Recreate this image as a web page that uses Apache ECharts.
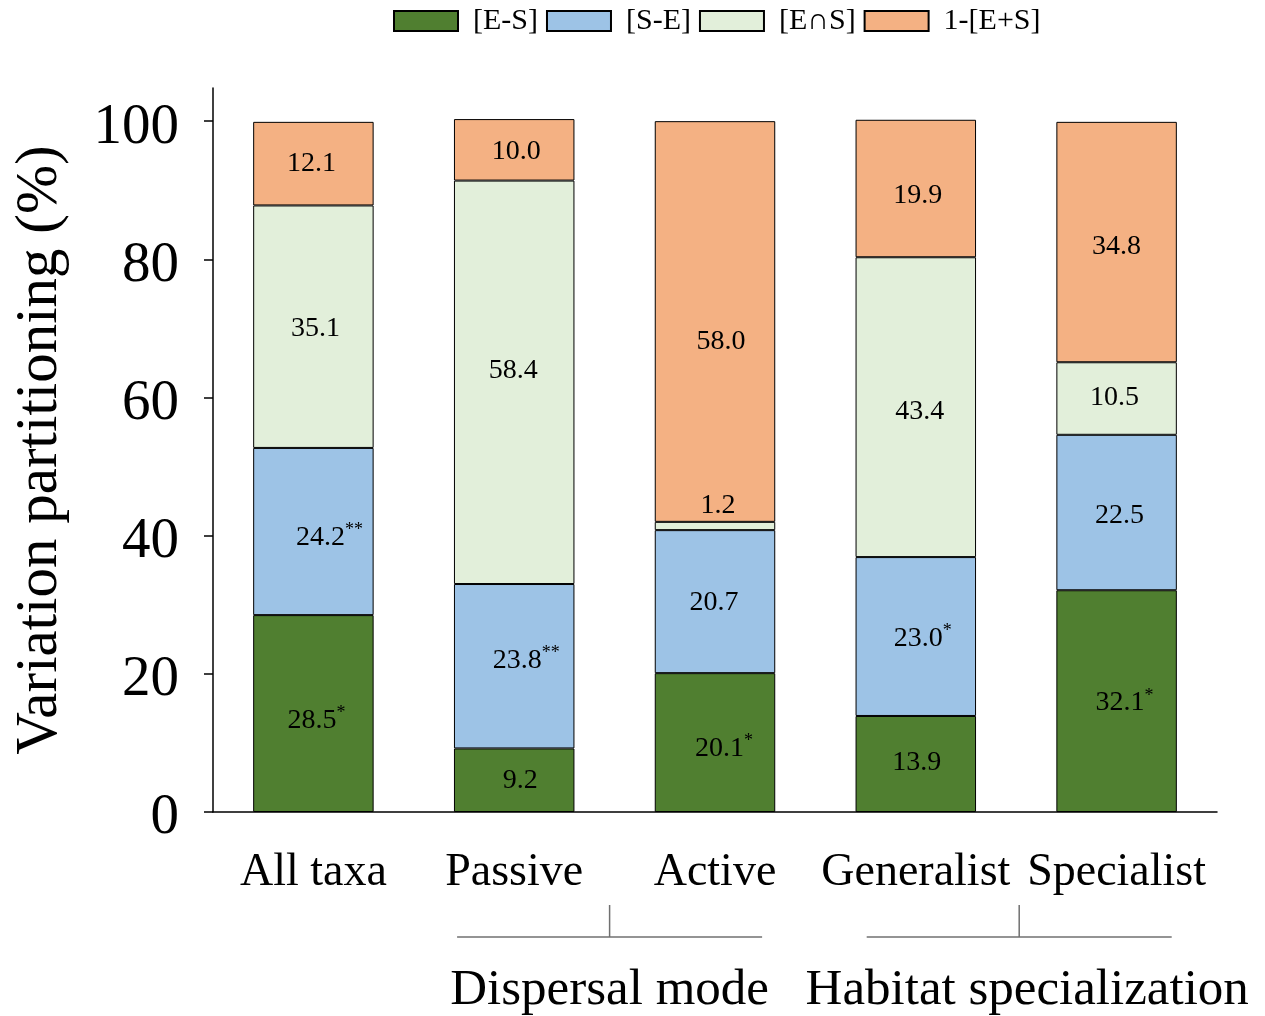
<!DOCTYPE html>
<html>
<head>
<meta charset="utf-8">
<script src="https://cdn.jsdelivr.net/npm/echarts@6/dist/echarts.min.js"></script>
<style>html,body{margin:0;padding:0;background:#fff}#c{width:1265px;height:1016px}</style>
</head>
<body>
<div id="c"></div>
<script>
// ---- data ----
var categories = ['All taxa', 'Passive', 'Active', 'Generalist', 'Specialist'];
var seriesNames = ['[E-S]', '[S-E]', '[E\u2229S]', '1-[E+S]'];
var valuesES   = [28.5, 9.2, 20.1, 13.9, 32.1];
var valuesSE   = [24.2, 23.8, 20.7, 23.0, 22.5];
var valuesEnS  = [35.1, 58.4, 1.2, 43.4, 10.5];
var valuesRes  = [12.1, 8.9, 58.0, 19.9, 34.8];
// printed labels (number, significance stars)
var labelsES  = [['28.5','*'], ['9.2',''], ['20.1','*'], ['13.9',''], ['32.1','*']];
var labelsSE  = [['24.2','**'], ['23.8','**'], ['20.7',''], ['23.0','*'], ['22.5','']];
var labelsEnS = [['35.1',''], ['58.4',''], ['1.2',''], ['43.4',''], ['10.5','']];
var labelsRes = [['12.1',''], ['10.0',''], ['58.0',''], ['19.9',''], ['34.8','']];
var yTicks = [0, 20, 40, 60, 80, 100];
var groups = [
  {name: 'Dispersal mode', from: 1, to: 2},
  {name: 'Habitat specialization', from: 3, to: 4}
];

// ---- styles ----
var colors = ['#507f30', '#9dc3e6', '#e2efda', '#f4b183'];
var FONT = '"Liberation Serif", "Times New Roman", serif';
// label nudges [dx, dy] per series per category (styling only)
var nudges = [
  [[3,7],[6,0],[9,6],[1,-1],[8,2]],
  [[16,6],[12,-6],[-1,1],[7,2],[3,3]],
  [[2,2],[-1,-12],[3,0],[4,4],[-2,-1]],
  [[-2,0],[2,2],[6,20],[2,7],[0,5]]
];

function mkData(vals, labs, si) {
  return vals.map(function (v, i) {
    var item = {
      value: v,
      label: {
        formatter: '{n|' + labs[i][0] + '}' + (labs[i][1] ? '{s|' + labs[i][1] + '}' : ''),
        offset: nudges[si][i]
      }
    };
    if (si === 2 && i === 2) {
      item.label.position = 'top';
      item.label.distance = 0;
    }
    return item;
  });
}

var allVals = [valuesES, valuesSE, valuesEnS, valuesRes];
var allLabs = [labelsES, labelsSE, labelsEnS, labelsRes];

var series = seriesNames.map(function (nm, si) {
  return {
    name: nm,
    type: 'bar',
    stack: 'total',
    barWidth: '60%',
    itemStyle: {color: colors[si], borderColor: '#000', borderWidth: 1},
    label: {
      show: true,
      position: 'inside',
      color: '#000',
      rich: {
        n: {fontFamily: FONT, fontSize: 28, color: '#000', lineHeight: 32},
        s: {fontFamily: FONT, fontSize: 18, color: '#000', verticalAlign: 'top', lineHeight: 32}
      }
    },
    emphasis: {disabled: true},
    data: mkData(allVals[si], allLabs[si], si)
  };
});

var chart = echarts.init(document.getElementById('c'), null, {renderer: 'canvas'});
var option = {
  animation: false,
  backgroundColor: '#fff',
  textStyle: {fontFamily: FONT},
  legend: {
    top: 1,
    left: 388,
    icon: 'rect',
    itemWidth: 64,
    itemHeight: 20,
    itemGap: 8,
    textStyle: {fontFamily: FONT, fontSize: 30, color: '#000', padding: [0, 0, 0, 10]},
    data: seriesNames
  },
  grid: {left: 213, right: 48, top: 88, bottom: 204, containLabel: false},
  xAxis: {
    type: 'category',
    data: categories,
    axisLine: {lineStyle: {color: '#000', width: 1.5}},
    axisTick: {alignWithLabel: true, length: 9, lineStyle: {color: '#000', width: 1.5}},
    axisLabel: {fontFamily: FONT, fontSize: 46, color: '#000', margin: 38, interval: 0}
  },
  yAxis: {
    type: 'value',
    min: 0,
    max: 104.8,
    interval: 20,
    name: 'Variation partitioning (%)',
    nameLocation: 'middle',
    nameGap: 143,
    nameTextStyle: {fontFamily: FONT, fontSize: 59, color: '#000'},
    axisLine: {show: true, lineStyle: {color: '#000', width: 1.5}},
    axisTick: {show: true, length: 9, customValues: yTicks, lineStyle: {color: '#000', width: 1.5}},
    axisLabel: {
      color: '#000', margin: 34, customValues: yTicks,
      formatter: '{t|{value}}',
      rich: {t: {fontFamily: FONT, fontSize: 57, color: '#000', lineHeight: 60, padding: [13, 0, 0, 0]}}
    },
    splitLine: {show: false}
  },
  series: series
};
chart.setOption(option);

// group brackets below the category labels
var g = [];
var offsets = [-5, 3];
groups.forEach(function (grp, k) {
  var x1 = chart.convertToPixel({xAxisIndex: 0}, categories[grp.from]);
  var x2 = chart.convertToPixel({xAxisIndex: 0}, categories[grp.to]);
  var mid = (x1 + x2) / 2 + offsets[k];
  var half = 152.5;
  g.push({type: 'line', shape: {x1: mid - half, y1: 937, x2: mid + half, y2: 937}, style: {stroke: '#707070', lineWidth: 1.5}, silent: true});
  g.push({type: 'line', shape: {x1: mid, y1: 905, x2: mid, y2: 937}, style: {stroke: '#707070', lineWidth: 1.5}, silent: true});
  g.push({type: 'text', x: mid + (k === 1 ? 8 : 0), y: 991, style: {text: grp.name, font: '51px ' + FONT, fill: '#000', textAlign: 'center', textVerticalAlign: 'middle'}, silent: true});
});
chart.setOption({graphic: g});
</script>
</body>
</html>
